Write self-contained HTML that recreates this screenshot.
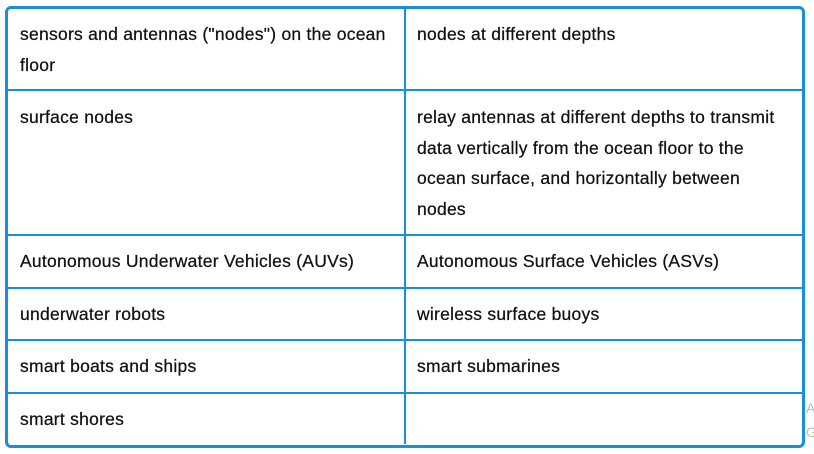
<!DOCTYPE html>
<html><head><style>
body{margin:0;width:814px;height:454px;background:#fff;position:relative;overflow:hidden;font-family:"Liberation Sans",Arial,sans-serif;}
.box{position:absolute;left:5px;top:6px;width:794px;height:436px;border:3px solid #1a8ddb;border-radius:6px;}
.h{position:absolute;left:8px;width:794px;height:2px;background:#1a8ddb;}
.v{position:absolute;left:404px;top:8px;width:2px;height:436px;background:#1a8ddb;}
.t{position:absolute;font-size:17.5px;line-height:30.5px;color:#111;white-space:nowrap;letter-spacing:0.25px;-webkit-text-stroke:0.25px #111;}
.g{position:absolute;left:806px;color:#bbb;font-size:14px;}
</style></head><body>
<div class="box"></div>
<div class="h" style="top:89px"></div>
<div class="h" style="top:234px"></div>
<div class="h" style="top:287px"></div>
<div class="h" style="top:339px"></div>
<div class="h" style="top:392px"></div>
<div class="v"></div>
<div class="t" style="left:20px;top:19px">sensors and antennas ("nodes") on the ocean<br>floor</div>
<div class="t" style="left:417px;top:19px">nodes at different depths</div>
<div class="t" style="left:20px;top:102px">surface nodes</div>
<div class="t" style="left:417px;top:102px">relay antennas at different depths to transmit<br>data vertically from the ocean floor to the<br>ocean surface, and horizontally between<br>nodes</div>
<div class="t" style="left:20px;top:246px">Autonomous Underwater Vehicles (AUVs)</div>
<div class="t" style="left:417px;top:246px">Autonomous Surface Vehicles (ASVs)</div>
<div class="t" style="left:20px;top:299px">underwater robots</div>
<div class="t" style="left:417px;top:299px">wireless surface buoys</div>
<div class="t" style="left:20px;top:351px">smart boats and ships</div>
<div class="t" style="left:417px;top:351px">smart submarines</div>
<div class="t" style="left:20px;top:404px">smart shores</div>
<div class="g" style="top:400px">A</div>
<div class="g" style="top:424px">G</div>
</body></html>
